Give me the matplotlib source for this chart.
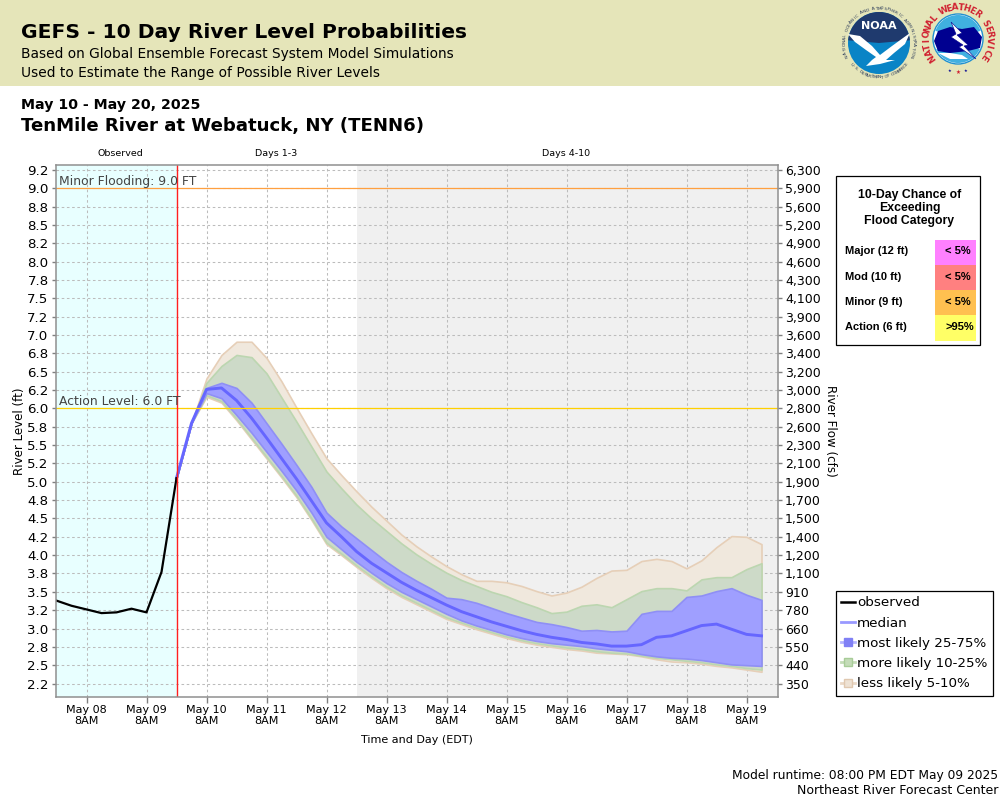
import numpy as np
import matplotlib
matplotlib.use('Agg')
import matplotlib.pyplot as plt
from matplotlib.lines import Line2D
from matplotlib.patches import Rectangle, Circle, Wedge, Polygon

# hours after May 08 8AM
obs_hours = [-12, -6, 0, 6, 12, 18, 24, 30, 36]
observed = [3.38, 3.31, 3.26, 3.21, 3.22, 3.27, 3.22, 3.77, 5.05]

fc_hours = [36, 42, 48, 54, 60, 66, 72, 78, 84, 90, 96, 102, 108, 114, 120, 126, 132, 138, 144, 150,
            156, 162, 168, 174, 180, 186, 192, 198, 204, 210, 216, 222, 228, 234, 240, 246, 252, 258, 264, 270]
median = [5.05, 5.8, 6.26, 6.28, 6.11, 5.87, 5.60, 5.32, 5.04, 4.74, 4.44, 4.25, 4.05, 3.89, 3.76, 3.63, 3.52, 3.42, 3.32, 3.23,
          3.16, 3.09, 3.03, 2.97, 2.92, 2.88, 2.85, 2.81, 2.79, 2.76, 2.76, 2.78, 2.88, 2.90, 2.97, 3.04, 3.06, 2.99, 2.92, 2.90]
p95 = [5.05, 5.8, 6.41, 6.73, 6.91, 6.91, 6.69, 6.37, 6.01, 5.66, 5.32, 5.09, 4.87, 4.66, 4.47, 4.28, 4.12, 3.98, 3.85, 3.74,
       3.65, 3.65, 3.63, 3.58, 3.51, 3.45, 3.49, 3.57, 3.69, 3.79, 3.80, 3.92, 3.95, 3.92, 3.82, 3.93, 4.11, 4.26, 4.25, 4.15]
p90 = [5.05, 5.8, 6.35, 6.58, 6.73, 6.70, 6.48, 6.15, 5.82, 5.48, 5.14, 4.91, 4.69, 4.50, 4.33, 4.16, 4.01, 3.88, 3.76, 3.66,
       3.58, 3.50, 3.44, 3.36, 3.29, 3.21, 3.23, 3.31, 3.33, 3.29, 3.40, 3.51, 3.55, 3.55, 3.52, 3.67, 3.70, 3.70, 3.81, 3.89]
p75 = [5.05, 5.8, 6.28, 6.35, 6.28, 6.08, 5.80, 5.52, 5.23, 4.93, 4.58, 4.39, 4.23, 4.07, 3.91, 3.77, 3.65, 3.54, 3.42, 3.40,
       3.35, 3.28, 3.21, 3.15, 3.09, 3.06, 3.02, 2.97, 2.98, 2.96, 2.97, 3.20, 3.24, 3.24, 3.43, 3.45, 3.51, 3.55, 3.46, 3.39]
p25 = [5.05, 5.8, 6.21, 6.14, 5.91, 5.67, 5.41, 5.15, 4.88, 4.58, 4.25, 4.08, 3.91, 3.76, 3.62, 3.50, 3.40, 3.30, 3.20, 3.11,
       3.04, 2.98, 2.92, 2.87, 2.83, 2.80, 2.78, 2.76, 2.73, 2.71, 2.69, 2.65, 2.62, 2.60, 2.59, 2.57, 2.54, 2.51, 2.50, 2.49]
p10 = [5.05, 5.8, 6.18, 6.10, 5.86, 5.60, 5.34, 5.08, 4.81, 4.50, 4.17, 4.02, 3.86, 3.71, 3.57, 3.45, 3.35, 3.25, 3.15, 3.08,
       3.01, 2.95, 2.89, 2.84, 2.80, 2.77, 2.74, 2.72, 2.69, 2.67, 2.66, 2.63, 2.60, 2.58, 2.56, 2.54, 2.51, 2.49, 2.46, 2.44]
p5 = [5.05, 5.8, 6.16, 6.08, 5.84, 5.58, 5.32, 5.06, 4.79, 4.48, 4.15, 4.00, 3.84, 3.69, 3.55, 3.43, 3.33, 3.23, 3.13, 3.06,
      2.99, 2.93, 2.87, 2.82, 2.78, 2.75, 2.72, 2.70, 2.67, 2.66, 2.65, 2.62, 2.58, 2.55, 2.54, 2.52, 2.49, 2.47, 2.44, 2.41]

level_ticks = [2.25, 2.5, 2.75, 3.0, 3.25, 3.5, 3.75, 4.0, 4.25, 4.5, 4.75, 5.0, 5.25, 5.5, 5.75,
               6.0, 6.25, 6.5, 6.75, 7.0, 7.25, 7.5, 7.75, 8.0, 8.25, 8.5, 8.75, 9.0, 9.25]
level_labels = ['2.2', '2.5', '2.8', '3.0', '3.2', '3.5', '3.8', '4.0', '4.2', '4.5', '4.8', '5.0', '5.2', '5.5', '5.8',
                '6.0', '6.2', '6.5', '6.8', '7.0', '7.2', '7.5', '7.8', '8.0', '8.2', '8.5', '8.8', '9.0', '9.2']
flow_labels = ['350', '440', '550', '660', '780', '910', '1,100', '1,200', '1,400', '1,500', '1,700', '1,900', '2,100', '2,300', '2,600',
               '2,800', '3,000', '3,200', '3,400', '3,600', '3,900', '4,100', '4,300', '4,600', '4,900', '5,200', '5,600', '5,900', '6,300']
day_hours = [0, 24, 48, 72, 96, 120, 144, 168, 192, 216, 240, 264]
day_labels = ['May 08\n8AM', 'May 09\n8AM', 'May 10\n8AM', 'May 11\n8AM', 'May 12\n8AM', 'May 13\n8AM',
              'May 14\n8AM', 'May 15\n8AM', 'May 16\n8AM', 'May 17\n8AM', 'May 18\n8AM', 'May 19\n8AM']

action_level = 6.0
minor_level = 9.0
now_hour = 36
days4_hour = 108

flood_names = ['Major (12 ft)', 'Mod (10 ft)', 'Minor (9 ft)', 'Action (6 ft)']
flood_chance = ['< 5%', '< 5%', '< 5%', '>95%']
flood_colors = ['#ff80ff', '#ff8080', '#ffc050', '#ffff66']

W, H = 1000, 800
fig = plt.figure(figsize=(W / 100, H / 100), dpi=100)
plt.rcParams['font.family'] = 'DejaVu Sans'


def tx(x, y, s, **kw):
    # place text by pixel position from the top left
    return fig.text(x / W, 1 - y / H, s, **kw)


def box(x0, y0, x1, y1, **kw):
    fig.add_artist(Rectangle((x0 / W, 1 - y1 / H), (x1 - x0) / W, (y1 - y0) / H, transform=fig.transFigure, **kw))


# header
box(0, 0, 1000, 86, fc='#e5e5b9', ec='none')
tx(21, 33, 'GEFS - 10 Day River Level Probabilities', fontsize=14.6, fontweight='bold', va='center')
tx(21, 54, 'Based on Global Ensemble Forecast System Model Simulations', fontsize=9.9, va='center')
tx(21, 73, 'Used to Estimate the Range of Possible River Levels', fontsize=9.9, va='center')
tx(21, 105, 'May 10 - May 20, 2025', fontsize=10.2, fontweight='bold', va='center')
tx(21, 126, 'TenMile River at Webatuck, NY (TENN6)', fontsize=13.05, fontweight='bold', va='center')
tx(120, 154, 'Observed', fontsize=6.8, ha='center', va='center')
tx(276.5, 154, 'Days 1-3', fontsize=6.8, ha='center', va='center')
tx(566.5, 154, 'Days 4-10', fontsize=6.8, ha='center', va='center')

# main plot
ax = fig.add_axes([55.5 / W, 1 - 697 / H, 722.5 / W, 532 / H])
ax.set_xlim(-12.4, 276.6)
ax.set_ylim(2.066, 9.32)
ax.axvspan(-12.4, now_hour, color='#e8ffff', lw=0, zorder=0)
ax.axvspan(days4_hour, 276.6, color='#f0f0f0', lw=0, zorder=0)
ax.grid(color='#bcbcbc', ls=(0, (2.5, 2.5)), lw=0.75, zorder=1)
ax.set_axisbelow(True)

ax.fill_between(fc_hours, p5, p95, fc='#f0e8dd', ec='#e6cfb8', lw=1.2, zorder=2)
ax.fill_between(fc_hours, p10, p90, fc='#cddac8', ec='#bcd6b0', lw=1.2, zorder=3)
ax.fill_between(fc_hours, p25, p75, fc='#9f9fff', ec='#8f8ff5', lw=1.2, zorder=4)
ax.plot(fc_hours, median, color='#6666ff', lw=2.1, zorder=5)
ax.plot(obs_hours, observed, color='black', lw=1.6, zorder=6)

ax.axhline(minor_level, color='#ffa040', lw=0.9, zorder=7)
ax.axhline(action_level, color='#ffd000', lw=0.9, zorder=7)
ax.axvline(now_hour, color='#ff2020', lw=1.0, zorder=7)
ax.text(-11, minor_level + 0.09, 'Minor Flooding: 9.0 FT', fontsize=8.9, color='#444444', va='center', zorder=8)
ax.text(-11, action_level + 0.09, 'Action Level: 6.0 FT', fontsize=8.9, color='#444444', va='center', zorder=8)

ax.set_xticks(day_hours)
ax.set_xticklabels(day_labels, fontsize=8, linespacing=1.1)
ax.set_yticks(level_ticks)
ax.set_yticklabels(level_labels, fontsize=9.6)
ax.tick_params(axis='x', length=4, width=1, color='#808080', pad=2)
ax.tick_params(axis='y', length=3, width=1, color='#808080', pad=2)
for s in ax.spines.values():
    s.set_color('#909090')
    s.set_linewidth(1.1)
    s.set_zorder(9)

ax2 = ax.twinx()
ax2.set_ylim(ax.get_ylim())
ax2.set_yticks(level_ticks)
ax2.set_yticklabels(flow_labels, fontsize=9.0)
ax2.tick_params(axis='y', length=3, width=1, color='#808080', pad=2)
for s in ax2.spines.values():
    s.set_visible(False)

tx(19.5, 431, 'River Level (ft)', fontsize=8.6, rotation=90, ha='center', va='center')
tx(831, 431, 'River Flow (cfs)', fontsize=8.6, rotation=270, ha='center', va='center')
tx(417, 740, 'Time and Day (EDT)', fontsize=8, ha='center', va='center')

# legend
handles = [
    Line2D([], [], color='black', lw=1.8),
    Line2D([], [], color='#9999ff', lw=2),
    Line2D([], [], color='#b4b4ff', lw=2, marker='s', ms=5.5, mfc='#8080f5', mec='#8080f5'),
    Line2D([], [], color='#c4dcb8', lw=2, marker='s', ms=5.5, mfc='#c4dcb8', mec='#a8cc98'),
    Line2D([], [], color='#ead8c6', lw=2, marker='s', ms=5.5, mfc='#eee2d4', mec='#e0c8b0'),
]
labels = ['observed', 'median', 'most likely 25-75%', 'more likely 10-25%', 'less likely 5-10%']
leg = fig.legend(handles, labels, loc='upper left', bbox_to_anchor=(835.5 / W, 1 - 591 / H), fontsize=9.7,
                 frameon=True, fancybox=False, edgecolor='black', framealpha=1, borderaxespad=0, borderpad=0.4,
                 labelspacing=0.54, handlelength=1.05, handletextpad=0.15)
leg.get_frame().set_linewidth(0.9)

# flood category table
box(836, 176, 980, 345, fc='white', ec='black', lw=0.9)
for i, line in enumerate(['10-Day Chance of', 'Exceeding', 'Flood Category']):
    tx(909.5, 195 + i * 13, line, fontsize=8.8, fontweight='bold', family='Liberation Sans', ha='center', va='center')
row_tops = [240, 265, 290, 315]
row_bots = [265, 290, 315, 341]
for name, pct, col, y0, y1 in zip(flood_names, flood_chance, flood_colors, row_tops, row_bots):
    box(935, y0, 976, y1, fc=col, ec='none')
    tx(845, (y0 + y1) / 2 - 1, name, fontsize=8, fontweight='bold', family='Liberation Sans', va='center')
    tx(945, (y0 + y1) / 2 - 1, pct, fontsize=8, fontweight='bold', family='Liberation Sans', va='center')

tx(998, 775, 'Model runtime: 08:00 PM EDT May 09 2025', fontsize=8.8, ha='right', va='center')
tx(998, 791, 'Northeast River Forecast Center', fontsize=9.0, ha='right', va='center')

# logos, drawn in pixel coordinates on an overlay
lg = fig.add_axes([0, 0, 1, 1], facecolor='none', zorder=5)
lg.set_xlim(0, W)
lg.set_ylim(H, 0)
lg.axis('off')


def ring_text(cx, cy, r, s, start, stop, **kw):
    # angles in degrees, clockwise from the top
    for ch, a in zip(s, np.linspace(start, stop, len(s))):
        t = np.radians(a)
        lg.text(cx + r * np.sin(t), cy - r * np.cos(t), ch, rotation=-a, rotation_mode='anchor',
                ha='center', va='center', **kw)


def ring_text_bottom(cx, cy, r, s, start, stop, **kw):
    for ch, a in zip(s, np.linspace(start, stop, len(s))):
        t = np.radians(a)
        lg.text(cx + r * np.sin(t), cy - r * np.cos(t), ch, rotation=180 - a, rotation_mode='anchor',
                ha='center', va='center', **kw)


# NOAA
cx, cy = 879, 43
lg.add_patch(Circle((cx, cy), 31, fc='#0a84c6', ec='none'))
lg.add_patch(Wedge((cx, cy), 31, 185, 355, fc='#1f3a6e', ec='none'))
lg.add_patch(Polygon([(848, 34), (860, 36), (872, 46), (880, 55), (892, 46), (903, 38), (910, 33), (905, 44), (894, 53),
                      (886, 60), (895, 60), (880, 64), (866, 66), (872, 60), (876, 57), (866, 50), (855, 42)],
                     fc='white', ec='none'))
lg.text(cx, 26, 'NOAA', color='white', fontsize=8, fontweight='bold', ha='center', va='center')
ring_text(cx, cy, 34.5, 'NATIONAL OCEANIC AND ATMOSPHERIC ADMINISTRATION', -112, 112, fontsize=3.2, color='#2a3a5a')
ring_text_bottom(cx, cy, 34.5, 'U.S. DEPARTMENT OF COMMERCE', 232, 128, fontsize=3.2, color='#2a3a5a')

# NWS
cx, cy = 958, 39
lg.add_patch(Circle((cx, cy), 25, fc='white', ec='#2090d0', lw=1))
lg.add_patch(Wedge((cx, cy), 24, 200, 340, fc='#40b0e0', ec='none'))
lg.add_patch(Wedge((cx, cy), 24, 25, 155, fc='#40b0e0', ec='none'))
lg.add_patch(Polygon([(934, 41), (938, 31), (950, 27), (962, 29), (974, 27), (982, 37), (980, 48), (968, 51), (950, 53), (938, 51)],
                     fc='#000090', ec='none'))
lg.add_patch(Polygon([(938, 53), (950, 53), (962, 55), (968, 59), (950, 59)], fc='white', ec='none'))
lg.add_patch(Polygon([(951, 22), (962, 33), (957, 35), (968, 45), (964, 46), (976, 59), (959, 47), (963, 45), (951, 37), (956, 34)],
                     fc='white', ec='#000090', lw=0.4))
ring_text(cx, cy, 31.5, 'NATIONAL WEATHER SERVICE', -125, 125, fontsize=6.2, fontweight='bold', color='#d02030')
lg.text(958, 72, '\u2605', fontsize=4, color='#d02030', ha='center', va='center')
lg.text(950, 71, '\u2605', fontsize=3, color='#000090', ha='center', va='center')
lg.text(966, 71, '\u2605', fontsize=3, color='#000090', ha='center', va='center')

fig.savefig('out.png', dpi=100)
